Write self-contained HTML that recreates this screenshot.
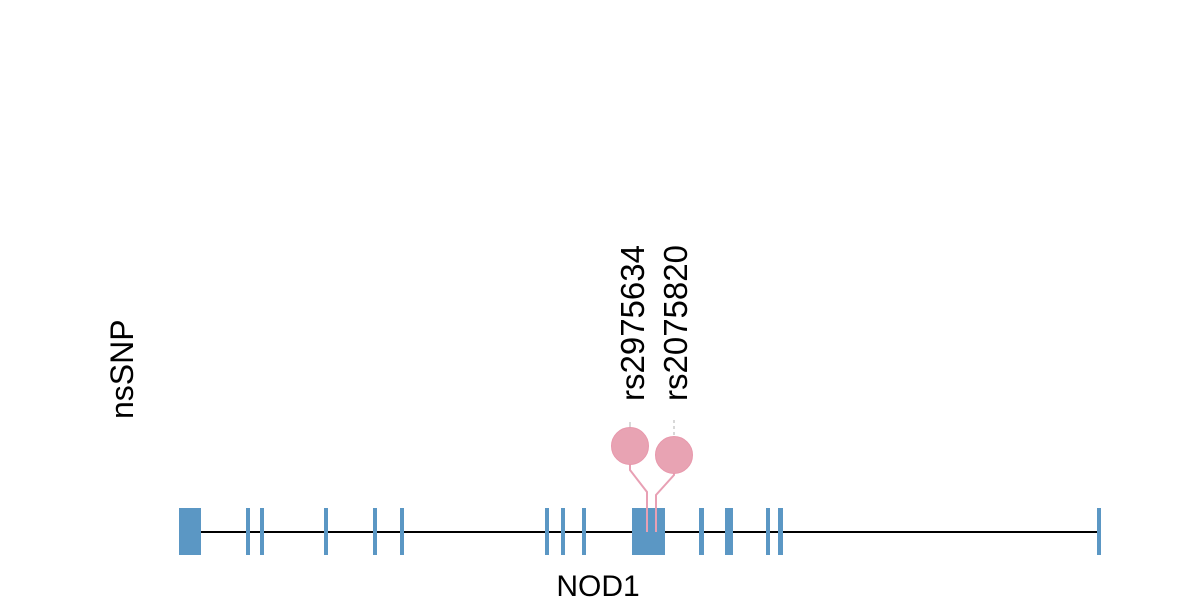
<!DOCTYPE html>
<html><head><style>html,body{margin:0;padding:0;background:#fff;width:1200px;height:600px;overflow:hidden}</style></head>
<body>
<svg width="1200" height="600" viewBox="0 0 1200 600" xmlns="http://www.w3.org/2000/svg" font-family="Liberation Sans, Arial, sans-serif">
<line x1="179" y1="532" x2="1100" y2="532" stroke="#000" stroke-width="2"/>
<g fill="#5b97c4">
<rect x="179" y="508" width="22" height="47"/>
<rect x="246" y="508" width="4" height="47"/>
<rect x="260" y="508" width="4" height="47"/>
<rect x="324" y="508" width="4" height="47"/>
<rect x="373" y="508" width="4" height="47"/>
<rect x="400" y="508" width="4" height="47"/>
<rect x="545" y="508" width="4" height="47"/>
<rect x="561" y="508" width="4" height="47"/>
<rect x="582" y="508" width="4" height="47"/>
<rect x="632" y="508" width="33" height="47"/>
<rect x="699" y="508" width="5" height="47"/>
<rect x="725" y="508" width="8" height="47"/>
<rect x="766" y="508" width="4" height="47"/>
<rect x="778" y="508" width="5" height="47"/>
<rect x="1097" y="508" width="4" height="47"/>
</g>
<g stroke="#e8a0b4" stroke-width="2" fill="none">
<polyline points="630,464 630,470 647,492 647,532"/>
<polyline points="674,473 674,475 656,495 656,532"/>
</g>
<line x1="630" y1="422" x2="630" y2="428" stroke="#ccc" stroke-width="1.5"/>
<line x1="674" y1="420" x2="674" y2="437" stroke="#ccc" stroke-width="1.5" stroke-dasharray="3,3"/>
<circle cx="630" cy="446" r="18.5" fill="#e8a3b3" stroke="#e898ac" stroke-width="1"/>
<circle cx="674" cy="455" r="18.5" fill="#e8a3b3" stroke="#e898ac" stroke-width="1"/>
<text transform="translate(644,401) rotate(-90)" font-size="33">rs2975634</text>
<text transform="translate(687,401) rotate(-90)" font-size="33">rs2075820</text>
<text transform="translate(133,419) rotate(-90)" font-size="32">nsSNP</text>
<text x="598" y="596" font-size="30" text-anchor="middle">NOD1</text>
</svg>
</body></html>
